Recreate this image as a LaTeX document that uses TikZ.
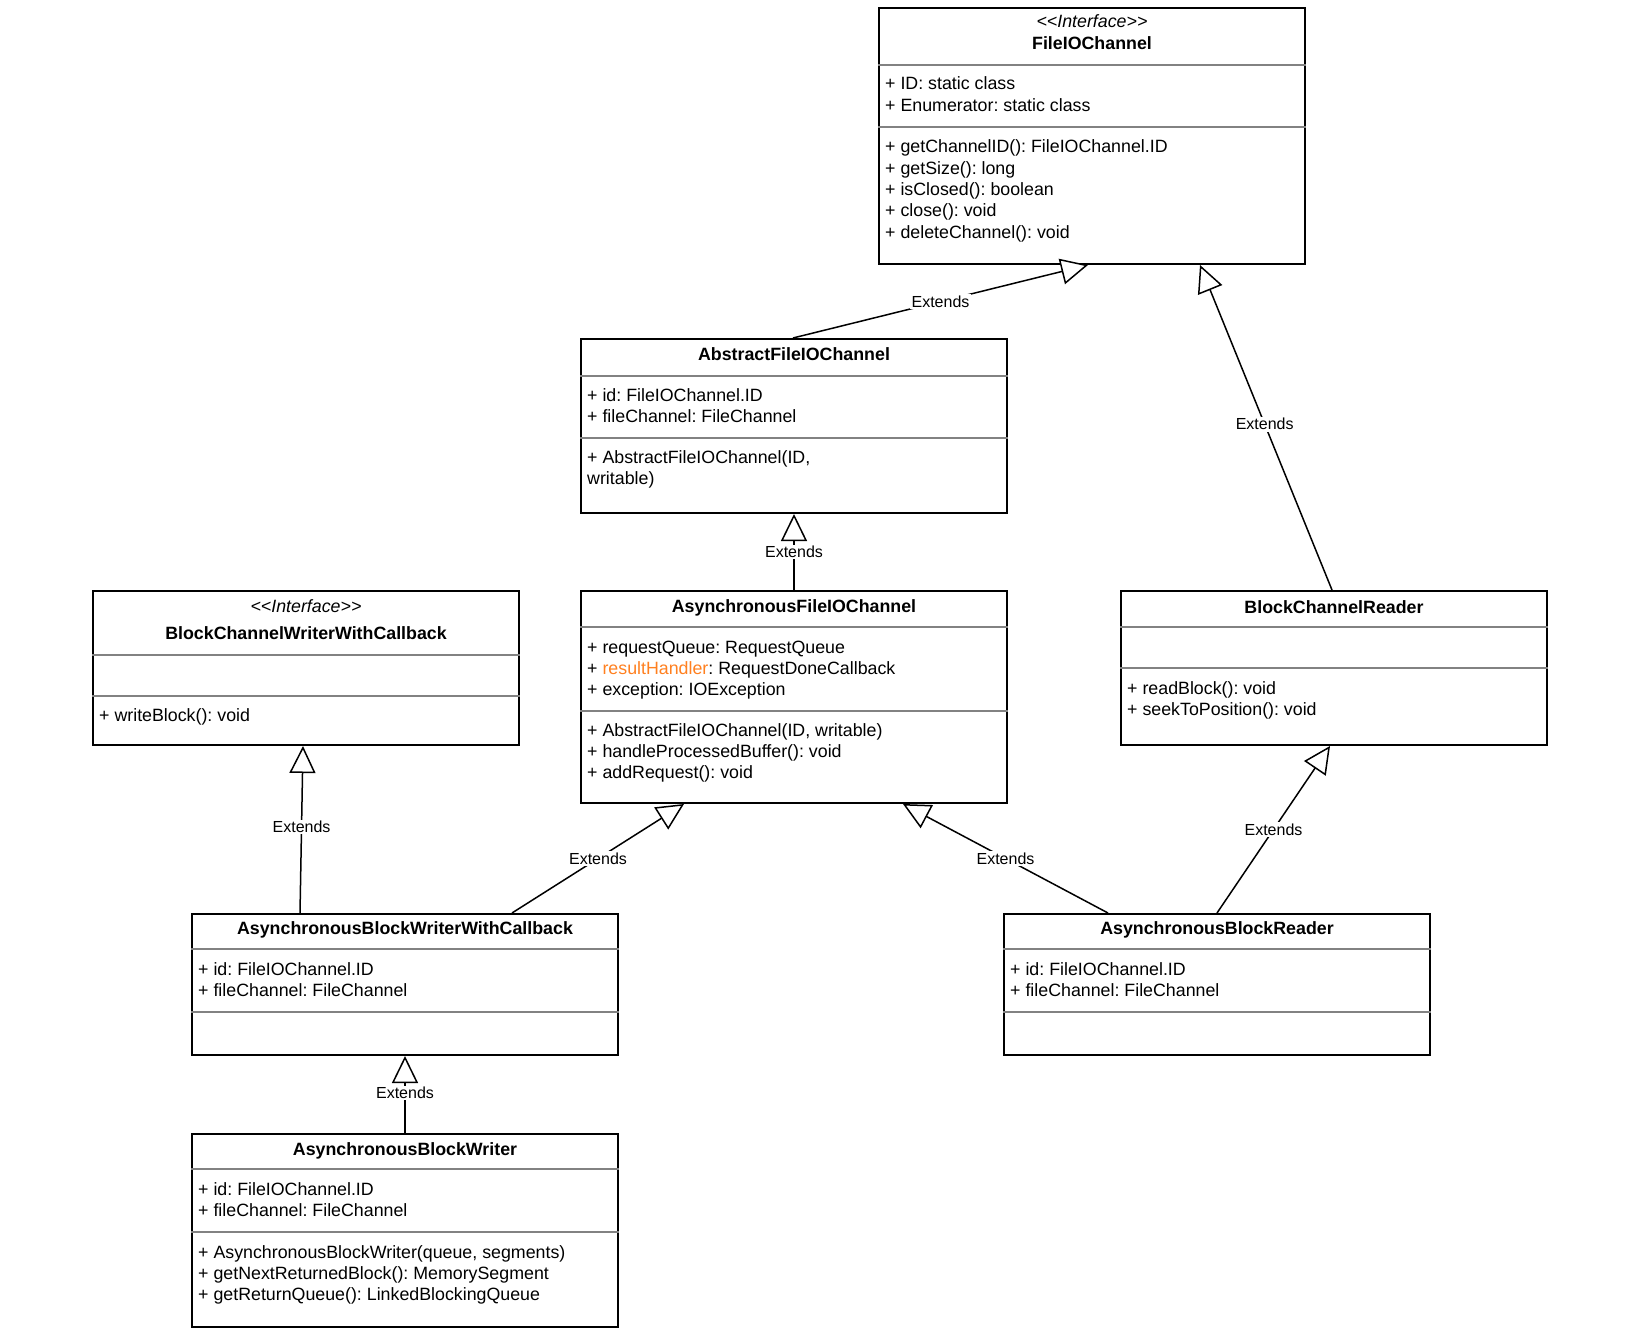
\documentclass[tikz,border=0pt]{standalone}
\usepackage{fontspec}
\setmainfont{Liberation Sans}
\usetikzlibrary{arrows.meta}
\definecolor{divgray}{RGB}{130,130,130}
\definecolor{hl}{RGB}{255,128,32}
\frenchspacing
\tikzset{
  umlbox/.style={draw, line width=2pt, inner sep=0pt, anchor=north west, minimum width=426pt},
  divline/.style={draw=divgray, line width=1.3pt},
  mem/.style={anchor=base west, inner sep=0pt, font=\fontsize{17.8}{21.4}\selectfont},
  ttl/.style={anchor=base, inner sep=0pt, font=\fontsize{17.8}{21.4}\selectfont\bfseries},
  ster/.style={anchor=base, inner sep=0pt, font=\fontsize{17.8}{21.4}\selectfont\itshape},
  ext/.style={draw, line width=1.5pt, -{Triangle[length=27pt,width=26pt,fill=white,line width=1.5pt]}},
  lbl/.style={fill=white, inner sep=1.5pt, font=\fontsize{16}{19}\selectfont}
}
\newcommand\memlines[4]{%
  \foreach \memtext [count=\i from 0] in {#4} \node[mem] (#1\i) at (#2, #3+21.4*\i) {\memtext};}
\begin{document}
\frenchspacing
\begin{tikzpicture}[x=1pt,y=-1pt]
\useasboundingbox[fill=white] (0,0) rectangle (1642,1338);

% boxes
\node[umlbox, minimum height=256pt] (fio) at (878,7) {};
\node[umlbox, minimum height=174pt] (abs) at (580,338) {};
\node[umlbox, minimum height=212pt] (afio) at (580,590) {};
\node[umlbox, minimum height=154pt] (bcw) at (92,590) {};
\node[umlbox, minimum height=154pt] (bcr) at (1120,590) {};
\node[umlbox, minimum height=141pt] (abwwc) at (191,913) {};
\node[umlbox, minimum height=141pt] (abr) at (1003,913) {};
\node[umlbox, minimum height=193pt] (abw) at (191,1133) {};

% dividers
\foreach \bx/\ya/\yb in {fio/65/127, abs/376/438, afio/627/711, bcw/655/696, bcr/627/668, abwwc/949/1012, abr/949/1012, abw/1169/1232}{
  \draw[divline] (\bx.west |- 0,\ya) -- (\bx.east |- 0,\ya);
  \draw[divline] (\bx.west |- 0,\yb) -- (\bx.east |- 0,\yb);
}

% FileIOChannel
\node[ster] (fio-s) at (fio.north |- 0,28) {<{}<Interface>{}>};
\node[ttl] (fio-t) at (fio.north |- 0,49.3) {FileIOChannel};
\memlines{fio-a}{885}{90}{{+ ID: static class},{+ Enumerator: static class}}
\memlines{fio-m}{885}{152.7}{{+ getChannelID(): FileIOChannel.ID},{+ getSize(): long},{+ isClosed(): boolean},{+ close(): void},{+ deleteChannel(): void}}

% AbstractFileIOChannel
\node[ttl] (abs-t) at (abs.north |- 0,360.5) {AbstractFileIOChannel};
\memlines{abs-a}{587}{401}{{+ id: FileIOChannel.ID},{+ fileChannel: FileChannel}}
\memlines{abs-m}{587}{463}{{+ AbstractFileIOChannel(ID,},{writable)}}

% AsynchronousFileIOChannel
\node[ttl] (afio-t) at (afio.north |- 0,612.5) {AsynchronousFileIOChannel};
\memlines{afio-a}{587}{653}{{+ requestQueue: RequestQueue},{+ \textcolor{hl}{resultHandler}: RequestDoneCallback},{+ exception: IOException}}
\memlines{afio-m}{587}{736}{{+ AbstractFileIOChannel(ID, writable)},{+ handleProcessedBuffer(): void},{+ addRequest(): void}}

% BlockChannelWriterWithCallback
\node[ster] (bcw-s) at (bcw.north |- 0,612) {<{}<Interface>{}>};
\node[ttl] (bcw-t) at (bcw.north |- 0,639) {BlockChannelWriterWithCallback};
\memlines{bcw-m}{99}{721}{{+ writeBlock(): void}}

% BlockChannelReader
\node[ttl] (bcr-t) at (bcr.north |- 0,613) {BlockChannelReader};
\memlines{bcr-m}{1127}{694}{{+ readBlock(): void},{+ seekToPosition(): void}}

% AsynchronousBlockWriterWithCallback
\node[ttl] (abwwc-t) at (abwwc.north |- 0,934) {AsynchronousBlockWriterWithCallback};
\memlines{abwwc-a}{198}{975}{{+ id: FileIOChannel.ID},{+ fileChannel: FileChannel}}

% AsynchronousBlockReader
\node[ttl] (abr-t) at (abr.north |- 0,934) {AsynchronousBlockReader};
\memlines{abr-a}{1010}{975}{{+ id: FileIOChannel.ID},{+ fileChannel: FileChannel}}

% AsynchronousBlockWriter
\node[ttl] (abw-t) at (abw.north |- 0,1155) {AsynchronousBlockWriter};
\memlines{abw-a}{198}{1195}{{+ id: FileIOChannel.ID},{+ fileChannel: FileChannel}}
\memlines{abw-m}{198}{1258}{{+ AsynchronousBlockWriter(queue, segments)},{+ getNextReturnedBlock(): MemorySegment},{+ getReturnQueue(): LinkedBlockingQueue}}

% connectors
\draw[ext] ([xshift=213pt]abs.north west) -- node[lbl,pos=0.5]{Extends} ([xshift=210pt]fio.south west);
\draw[ext] ([xshift=212pt]bcr.north west) -- node[lbl,pos=0.51]{Extends} ([xshift=322pt]fio.south west);
\draw[ext] (afio.north) -- node[lbl,pos=0.5]{Extends} (abs.south);
\draw[ext] ([xshift=109pt]abwwc.north west) -- node[lbl,pos=0.515]{Extends} ([xshift=211pt]bcw.south west);
\draw[ext] ([xshift=321pt]abwwc.north west) -- node[lbl,pos=0.5]{Extends} ([xshift=104pt]afio.south west);
\draw[ext] ([xshift=105pt]abr.north west) -- node[lbl,pos=0.5]{Extends} ([xshift=323pt]afio.south west);
\draw[ext] ([xshift=214pt]abr.north west) -- node[lbl,pos=0.5]{Extends} ([xshift=210pt]bcr.south west);
\draw[ext] (abw.north) -- node[lbl,pos=0.52]{Extends} (abwwc.south);
\end{tikzpicture}
\end{document}
